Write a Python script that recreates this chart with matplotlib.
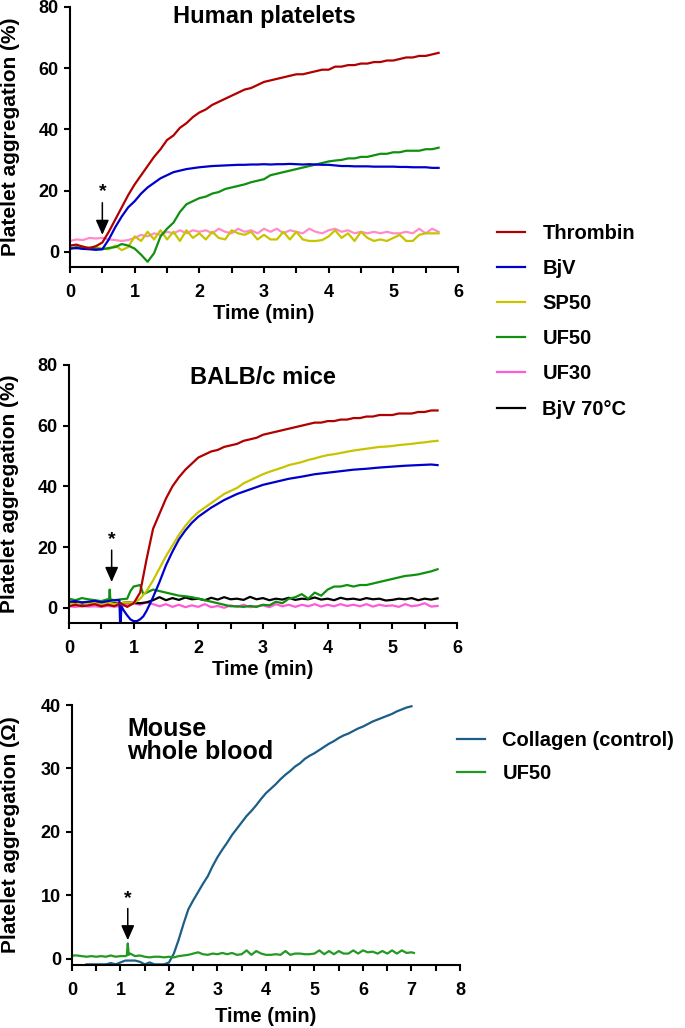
import numpy as np
import matplotlib
matplotlib.use("Agg")
import matplotlib.pyplot as plt
from matplotlib.ticker import MultipleLocator

plt.rcParams['font.family'] = ['Liberation Sans', 'DejaVu Sans']
plt.rcParams['font.weight'] = 'bold'
plt.rcParams['axes.labelweight'] = 'bold'

# ---- panel A: human platelets (sampled every 0.1 min, 0 - 5.7) ----
t_h = np.round(np.arange(0, 5.71, 0.1), 2)
h_thr = [2.0, 2.3, 1.6, 1.2, 1.8, 3.0, 6.5, 10.5, 14.5, 18.5, 22.0, 25.0, 28.0, 31.0, 33.5,
         36.5, 38.0, 40.5, 42.0, 44.0, 45.5, 46.5, 48.0, 49.0, 50.0, 51.0, 52.0, 53.0, 53.5,
         54.5, 55.5, 56.0, 56.5, 57.0, 57.5, 58.0, 58.0, 58.5, 59.0, 59.5, 59.5, 60.5, 60.5,
         61.0, 61.0, 61.5, 61.5, 62.0, 62.0, 62.5, 62.5, 63.0, 63.5, 63.5, 64.0, 64.0, 64.5, 65.0]
h_bjv = [1.0, 1.2, 0.9, 0.8, 0.6, 0.8, 4.0, 8.0, 11.5, 14.5, 16.5, 19.0, 21.0, 22.5, 24.0,
         25.0, 26.0, 26.5, 27.0, 27.3, 27.6, 27.8, 28.0, 28.1, 28.2, 28.3, 28.4, 28.4, 28.5,
         28.5, 28.6, 28.5, 28.6, 28.6, 28.7, 28.6, 28.5, 28.6, 28.5, 28.4, 28.4, 28.2, 28.0,
         28.0, 27.9, 27.9, 27.9, 27.8, 27.8, 27.8, 27.8, 27.7, 27.7, 27.6, 27.6, 27.6, 27.4, 27.4]
h_sp50 = [1.5, 1.0, 1.8, 0.8, 1.5, 1.0, 0.8, 2.0, 0.5, 1.5, 5.0, 3.5, 6.5, 4.0, 7.0, 4.0,
          6.5, 3.5, 7.0, 4.5, 6.0, 4.0, 6.5, 4.5, 4.0, 7.0, 6.0, 5.5, 6.5, 4.0, 5.5, 4.0,
          4.0, 6.5, 4.0, 6.5, 4.0, 3.5, 3.5, 3.8, 5.0, 7.0, 4.5, 6.0, 3.5, 6.5, 4.5, 3.5,
          4.0, 3.5, 4.5, 5.5, 3.5, 3.5, 5.5, 6.0, 6.0, 6.0]
h_uf50 = [1.0, 1.5, 1.0, 1.3, 1.0, 0.8, 1.2, 1.5, 2.5, 2.0, 1.0, -1.0, -3.3, -0.5, 5.0,
          7.5, 9.5, 13.0, 15.5, 16.5, 17.5, 18.0, 19.0, 19.5, 20.5, 21.0, 21.5, 22.0, 22.7,
          23.2, 23.7, 25.0, 25.5, 26.0, 26.5, 27.0, 27.5, 28.0, 28.5, 29.0, 29.5, 29.8, 30.0,
          30.5, 30.5, 31.0, 31.0, 31.5, 32.0, 32.0, 32.5, 32.5, 33.0, 33.0, 33.0, 33.5, 33.5, 34.0]
h_uf30 = [3.5, 4.0, 3.8, 4.5, 4.3, 4.5, 4.0, 3.8, 3.5, 3.8, 4.5, 5.5, 5.0, 6.0, 5.5, 6.5,
          6.0, 7.0, 6.0, 7.0, 6.5, 7.0, 6.0, 7.5, 6.5, 6.0, 7.5, 6.5, 7.0, 6.0, 7.5, 6.5,
          7.5, 6.0, 7.0, 6.5, 6.0, 7.5, 6.5, 6.0, 7.0, 7.5, 6.5, 7.0, 6.0, 6.5, 6.0, 6.5,
          6.0, 6.5, 6.0, 6.0, 6.5, 6.0, 7.5, 6.0, 7.5, 6.5]

# ---- panel B: BALB/c mice ----
t_m = np.round(np.arange(0, 5.71, 0.1), 2)
m_thr = [0.5, 1.0, 0.5, 0.8, 1.2, 0.5, 1.0, 0.5, 1.5, 0.3, 1.5, 5.0, 16.0, 26.0, 31.0,
         36.0, 40.0, 43.0, 45.5, 47.5, 49.5, 50.5, 51.5, 52.0, 53.0, 53.5, 54.0, 55.0, 55.5,
         56.0, 57.0, 57.5, 58.0, 58.5, 59.0, 59.5, 60.0, 60.5, 61.0, 61.0, 61.5, 61.5, 62.0,
         62.0, 62.5, 62.5, 63.0, 63.0, 63.5, 63.5, 63.5, 64.0, 64.0, 64.0, 64.5, 64.5, 65.0, 65.0]
m_sp50 = [1.5, 1.2, 1.8, 1.4, 1.6, 1.2, 1.7, 1.3, 1.5, 1.8, 1.5, 3.0, 5.5, 9.0, 13.0,
          17.0, 20.5, 24.0, 27.0, 29.5, 31.5, 33.0, 34.5, 36.0, 37.5, 38.5, 39.5, 41.0, 42.0,
          43.0, 44.0, 44.8, 45.5, 46.2, 47.0, 47.5, 48.0, 48.7, 49.2, 49.8, 50.3, 50.6, 51.0,
          51.4, 51.8, 52.1, 52.4, 52.7, 53.0, 53.1, 53.3, 53.6, 53.8, 54.0, 54.3, 54.5, 54.8, 55.0]
m_uf30 = [0.5, 0.3, 0.6, 0.4, 0.5, 0.3, 0.6, 0.4, 0.5, 1.0, 1.5, 1.0, 1.8, 1.2, 0.5, 1.2,
          0.3, 1.0, 0.2, 0.8, 0.3, 1.2, 0.2, 0.6, 0.0, 0.8, 0.3, 1.0, 0.2, 0.5, 0.8, 0.2,
          1.2, 0.5, 1.0, 0.3, 1.0, 0.5, 1.2, 0.4, 1.0, 0.5, 1.2, 0.6, 1.0, 0.5, 1.2, 0.4,
          1.0, 0.6, 0.8, 0.3, 1.2, 0.5, 0.8, 1.5, 0.4, 0.6]
m_bjv70 = [1.5, 1.8, 1.4, 1.6, 1.5, 1.7, 1.4, 1.6, 1.5, 1.8, 1.6, 1.5, 1.8, 2.5, 3.5,
           2.5, 3.2, 2.6, 3.4, 2.8, 3.0, 2.5, 3.3, 2.7, 3.5, 2.8, 3.0, 2.6, 3.6, 2.8, 3.2,
           2.5, 3.0, 2.7, 3.3, 2.6, 3.0, 2.8, 3.4, 2.7, 3.0, 2.5, 3.3, 2.8, 3.0, 2.6, 3.2,
           2.8, 3.0, 2.4, 2.6, 3.0, 2.8, 3.2, 2.5, 3.0, 2.7, 3.1]
m_bjv_t = [0.0, 0.1, 0.2, 0.3, 0.4, 0.5, 0.6, 0.7, 0.78, 0.79, 0.80, 0.81, 0.85, 0.9, 0.95,
           1.0, 1.05, 1.1, 1.15, 1.2, 1.25, 1.3, 1.4, 1.5, 1.6, 1.7, 1.8, 1.9, 2.0, 2.2, 2.4,
           2.6, 2.8, 3.0, 3.2, 3.4, 3.6, 3.8, 4.0, 4.2, 4.4, 4.6, 4.8, 5.0, 5.2, 5.4, 5.6, 5.7]
m_bjv = [2.0, 2.2, 1.8, 2.0, 2.3, 1.8, 2.2, 2.5, 2.5, -5.0, -5.0, 0.5, -1.0, -2.5, -3.8,
         -4.4, -4.4, -3.8, -2.8, -1.0, 1.2, 3.5, 8.5, 14.0, 18.5, 22.5, 25.5, 28.0, 30.0, 33.0,
         35.5, 37.5, 39.0, 40.5, 41.5, 42.5, 43.2, 44.0, 44.5, 45.0, 45.5, 45.8, 46.2, 46.5,
         46.8, 47.0, 47.2, 47.0]
m_uf50_t = [0.0, 0.1, 0.2, 0.3, 0.4, 0.5, 0.6, 0.62, 0.63, 0.64, 0.7, 0.8, 0.9, 0.95, 1.0,
            1.1, 1.15, 1.2, 1.3, 1.4, 1.5, 1.6, 1.7, 1.8, 1.9, 2.0, 2.1, 2.2, 2.3, 2.4, 2.5,
            2.6, 2.7, 2.8, 2.9, 3.0, 3.1, 3.2, 3.3, 3.4, 3.5, 3.6, 3.7, 3.8, 3.9, 4.0, 4.1,
            4.2, 4.3, 4.4, 4.5, 4.6, 4.7, 4.8, 4.9, 5.0, 5.1, 5.2, 5.3, 5.4, 5.5, 5.6, 5.7]
m_uf50 = [3.0, 2.5, 3.2, 2.8, 2.5, 2.2, 2.8, 2.8, 6.0, 2.8, 2.5, 2.8, 3.0, 5.5, 7.0, 7.5,
          4.5, 5.0, 6.0, 5.5, 5.0, 4.5, 4.0, 3.8, 3.5, 3.0, 2.5, 2.0, 1.5, 1.0, 0.5, 0.5,
          0.3, 0.6, 0.3, 1.0, 0.8, 2.0, 1.5, 3.0, 3.5, 4.5, 3.0, 5.0, 4.0, 6.0, 7.0, 7.0,
          7.5, 7.0, 7.5, 7.5, 8.0, 8.5, 9.0, 9.5, 10.0, 10.5, 10.7, 11.0, 11.5, 12.0, 12.7]

# ---- panel C: mouse whole blood (ohm) ----
t_col = np.round(np.arange(0.3, 7.01, 0.1), 2)
col = [-0.9, -0.9, -0.9, -0.9, -0.9, -0.7, -0.9, -0.6, -0.3, -0.3, -0.3, -0.5, -0.9, -0.6,
       -0.9, -0.9, -0.9, -0.6, 0.8, 3.0, 5.5, 7.8, 9.2, 10.5, 11.8, 13.0, 14.6, 16.0, 17.2,
       18.3, 19.5, 20.5, 21.5, 22.5, 23.3, 24.2, 25.2, 26.1, 26.8, 27.5, 28.3, 29.0, 29.6,
       30.3, 30.8, 31.5, 32.0, 32.4, 32.9, 33.4, 33.9, 34.3, 34.8, 35.2, 35.5, 35.9, 36.3,
       36.6, 37.0, 37.4, 37.7, 38.0, 38.3, 38.6, 39.0, 39.3, 39.6, 39.8]
t_wb = [0.0, 0.1, 0.2, 0.3, 0.4, 0.5, 0.6, 0.7, 0.8, 0.9, 1.0, 1.1, 1.13, 1.15, 1.17, 1.2,
        1.3, 1.4, 1.5, 1.6, 1.7, 1.8, 1.9, 2.0, 2.1, 2.2, 2.3, 2.4, 2.5, 2.6, 2.7, 2.8, 2.9,
        3.0, 3.1, 3.2, 3.3, 3.4, 3.5, 3.6, 3.7, 3.8, 3.9, 4.0, 4.1, 4.2, 4.3, 4.4, 4.5, 4.6,
        4.7, 4.8, 4.9, 5.0, 5.1, 5.2, 5.3, 5.4, 5.5, 5.6, 5.7, 5.8, 5.9, 6.0, 6.1, 6.2, 6.3,
        6.4, 6.5, 6.6, 6.7, 6.8, 6.9, 7.0, 7.05]
wb_uf50 = [0.5, 0.5, 0.4, 0.3, 0.4, 0.3, 0.4, 0.3, 0.5, 0.3, 0.4, 0.4, 0.5, 2.4, 0.6, 0.8,
           0.4, 0.5, 0.3, 0.2, 0.3, 0.3, 0.2, 0.3, 0.2, 0.4, 0.5, 0.6, 0.8, 1.0, 0.7, 0.6,
           0.8, 0.7, 0.9, 0.7, 0.9, 0.6, 0.7, 1.3, 0.6, 1.2, 0.8, 0.6, 0.6, 0.7, 0.6, 1.2,
           0.6, 0.8, 0.8, 0.7, 0.7, 0.8, 1.3, 0.7, 1.2, 0.7, 1.2, 0.8, 0.8, 1.3, 0.8, 1.3,
           1.0, 1.1, 0.8, 1.2, 0.8, 1.3, 0.8, 1.3, 0.9, 1.0, 0.9]

labels = ["Thrombin", "BjV", "SP50", "UF50", "UF30", "BjV 70°C"]
colors = {"Thrombin": "#B00000", "BjV": "#0000CC", "SP50": "#C8C400", "UF50": "#109010",
          "UF30": "#FF5AD7", "BjV 70°C": "#000000"}

fig = plt.figure(figsize=(6.85, 10.28), dpi=100)
ax1 = fig.add_axes([0.1022, 0.7403, 0.5664, 0.2529])
ax2 = fig.add_axes([0.1007, 0.3940, 0.5664, 0.2510])
ax3 = fig.add_axes([0.1051, 0.0613, 0.5664, 0.2529])

lw = 1.6


def style(ax, xmax, ylo, yhi, ystep, ylabel, xlabelpad=2):
    ax.set_xlim(0, xmax)
    ax.set_ylim(ylo, yhi)
    ax.xaxis.set_major_locator(MultipleLocator(1))
    ax.xaxis.set_minor_locator(MultipleLocator(0.5))
    ax.yaxis.set_major_locator(MultipleLocator(ystep))
    for s in ["top", "right"]:
        ax.spines[s].set_visible(False)
    for s in ["left", "bottom"]:
        ax.spines[s].set_linewidth(1.5)
    ax.tick_params(which="both", direction="out", length=4, width=1.5, labelsize=13, pad=4)
    ax.tick_params(axis="x", which="both", pad=8.3)
    ax.set_xlabel("Time (min)", fontsize=14.5, fontweight="bold", labelpad=xlabelpad)
    ax.set_ylabel(ylabel, fontsize=15, fontweight="bold")
    ax.yaxis.set_label_coords(-0.128, 0.5)


def star(ax, x, y0, y1, ys):
    ax.annotate("", xy=(x, y1), xytext=(x, y0),
                arrowprops=dict(arrowstyle="-|>,head_length=0.45,head_width=0.2",
                                color="black", lw=1.1, mutation_scale=20,
                                shrinkA=0, shrinkB=0))
    ax.text(x, ys, "*", ha="center", va="center", fontsize=14, fontweight="bold")


# panel A
ax1.plot(t_h, h_uf30, color="#FF8CC8", lw=lw)
ax1.plot(t_h, h_sp50, color=colors["SP50"], lw=lw)
ax1.plot(t_h, h_uf50, color=colors["UF50"], lw=lw)
ax1.plot(t_h, h_bjv, color=colors["BjV"], lw=lw)
ax1.plot(t_h, h_thr, color=colors["Thrombin"], lw=lw)
style(ax1, 6, -5, 80, 20, "Platelet aggregation (%)")
star(ax1, 0.5, 16, 5.5, 19.5)
ax1.text(0.5, 0.965, "Human platelets", transform=ax1.transAxes, ha="center",
         va="center", fontsize=17, fontweight="bold")

# panel B
lines = {}
lines["UF30"], = ax2.plot(t_m, m_uf30, color=colors["UF30"], lw=lw)
lines["BjV 70°C"], = ax2.plot(t_m, m_bjv70, color=colors["BjV 70°C"], lw=lw)
lines["UF50"], = ax2.plot(m_uf50_t, m_uf50, color=colors["UF50"], lw=lw)
lines["SP50"], = ax2.plot(t_m, m_sp50, color=colors["SP50"], lw=lw)
lines["BjV"], = ax2.plot(m_bjv_t, m_bjv, color=colors["BjV"], lw=lw)
lines["Thrombin"], = ax2.plot(t_m, m_thr, color=colors["Thrombin"], lw=lw)
style(ax2, 6, -5, 80, 20, "Platelet aggregation (%)")
star(ax2, 0.66, 19, 8.5, 22.5)
ax2.text(0.5, 0.953, "BALB/c mice", transform=ax2.transAxes, ha="center",
         va="center", fontsize=17, fontweight="bold")

fig.legend([lines[k] for k in labels], labels, loc="upper left",
           bbox_to_anchor=(497 / 685, 1 - 224 / 1028), frameon=False, fontsize=14.5,
           handlelength=1.4, handletextpad=0.85, labelspacing=0.8, borderpad=0,
           borderaxespad=0)

# panel C
l_col, = ax3.plot(t_col, col, color="#1C5E88", lw=lw)
l_wb, = ax3.plot(t_wb, wb_uf50, color="#229A22", lw=lw)
style(ax3, 8, -1, 40, 10, "Platelet aggregation (Ω)", xlabelpad=6)
ax3.yaxis.set_label_coords(-0.133, 0.5)
star(ax3, 1.15, 7.9, 2.9, 9.4)
ax3.text(0.142, 0.955, "Mouse\nwhole blood", transform=ax3.transAxes, ha="left",
         va="top", fontsize=18, fontweight="bold", linespacing=0.95)
fig.legend([l_col, l_wb], ["Collagen (control)", "UF50"], loc="upper left",
           bbox_to_anchor=(457 / 685, 1 - 731 / 1028), frameon=False, fontsize=14.5,
           handlelength=1.4, handletextpad=0.85, labelspacing=0.7, borderpad=0,
           borderaxespad=0)

fig.savefig("out.png", dpi=100)
